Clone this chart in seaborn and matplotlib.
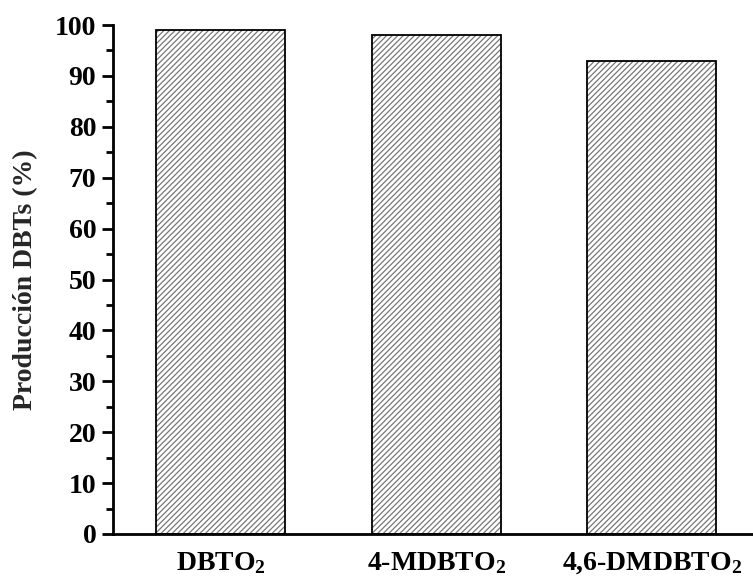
import matplotlib
matplotlib.use("Agg")
import matplotlib.pyplot as plt
import seaborn as sns
import pandas as pd
from matplotlib.ticker import MultipleLocator

compounds = ["DBTO$_2$", "4-MDBTO$_2$", "4,6-DMDBTO$_2$"]
production = [99.0, 98.0, 93.0]

sns.set_theme(style="ticks")
plt.rcParams["font.family"] = ["Liberation Serif", "DejaVu Serif"]
plt.rcParams["font.weight"] = "bold"
plt.rcParams["mathtext.fontset"] = "custom"
plt.rcParams["mathtext.rm"] = "Liberation Serif:bold"
plt.rcParams["mathtext.it"] = "Liberation Serif:bold"
plt.rcParams["mathtext.bf"] = "Liberation Serif:bold"
plt.rcParams["mathtext.default"] = "rm"
plt.rcParams["hatch.linewidth"] = 0.9

df = pd.DataFrame({"compound": compounds, "production": production})

fig = plt.figure(figsize=(7.53, 5.82), dpi=100)
ax = fig.add_axes([0.150, 0.0825, 0.850, 0.8745])

# hatched fill
sns.barplot(data=df, x="compound", y="production", ax=ax, width=0.6,
            color="white", edgecolor="#777777", linewidth=0, hatch="//////",
            errorbar=None)
# black outline on top
sns.barplot(data=df, x="compound", y="production", ax=ax, width=0.6,
            fill=False, edgecolor="black", linewidth=1.3, errorbar=None)

ax.set_xlim(-0.5, 2.47)
ax.set_ylim(0, 100)
ax.yaxis.set_major_locator(MultipleLocator(10))
ax.yaxis.set_minor_locator(MultipleLocator(5))

for side in ("top", "right"):
    ax.spines[side].set_visible(False)
for side in ("left", "bottom"):
    ax.spines[side].set_linewidth(2.0)
    ax.spines[side].set_color("black")

ax.tick_params(axis="y", which="major", length=8, width=2, direction="out",
               labelsize=20, pad=4, colors="black")
ax.tick_params(axis="y", which="minor", length=5, width=2, direction="out",
               colors="black")
ax.tick_params(axis="x", which="both", length=0, labelsize=20, pad=12,
               colors="black")
for lab in ax.get_xticklabels() + ax.get_yticklabels():
    lab.set_fontweight("bold")

ax.set_xlabel("")
ax.set_ylabel("Producción DBTs (%)", fontsize=20, fontweight="bold",
              labelpad=12)

fig.savefig("out.png", dpi=100, facecolor="white")
